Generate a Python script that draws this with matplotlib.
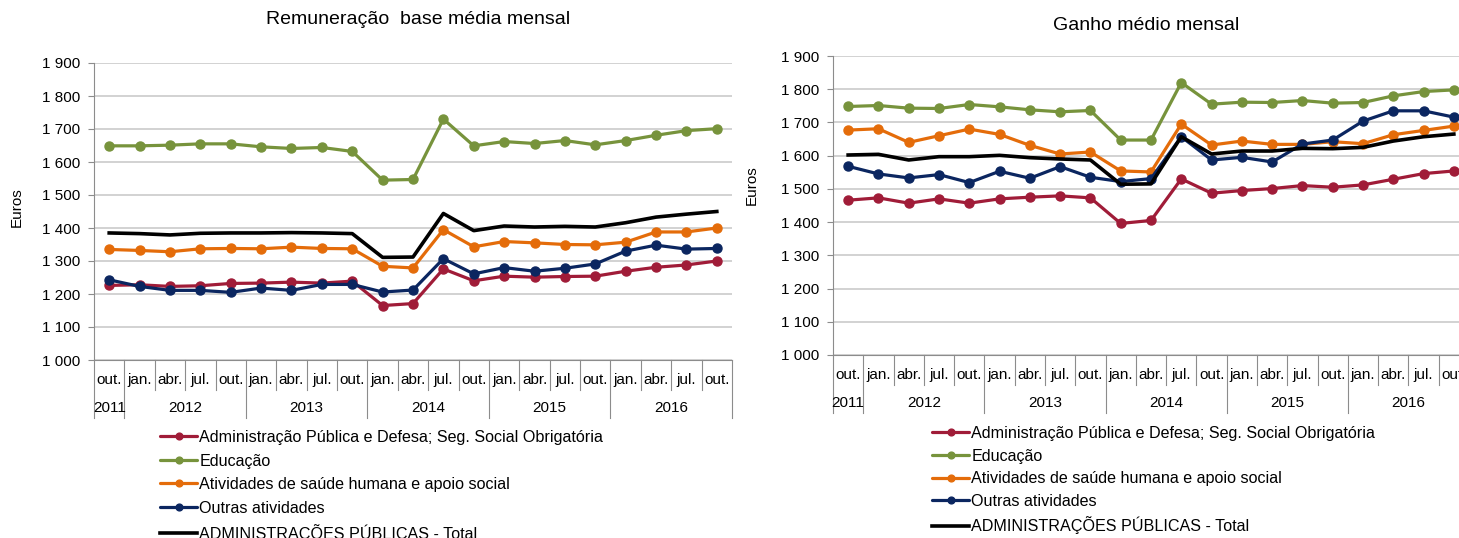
import numpy as np
import matplotlib
matplotlib.use("Agg")
import matplotlib.pyplot as plt
import matplotlib.transforms as mtransforms

plt.rcParams['font.family'] = ['Liberation Sans', 'DejaVu Sans']

# categories (quarterly, out. 2011 -> out. 2016)
months = ['out.'] + ['jan.', 'abr.', 'jul.', 'out.'] * 5
years = ['2011', '2012', '2013', '2014', '2015', '2016']
year_sizes = [1, 4, 4, 4, 4, 4]

labels = ['Administração Pública e Defesa; Seg. Social Obrigatória',
          'Educação',
          'Atividades de saúde humana e apoio social',
          'Outras atividades',
          'ADMINISTRAÇÕES PÚBLICAS - Total']

# Remuneração base média mensal
base_admin = [1226, 1228, 1223, 1225, 1232, 1233, 1236, 1233, 1239, 1165, 1171,
              1276, 1240, 1254, 1251, 1253, 1254, 1269, 1281, 1288, 1300]
base_educ = [1649, 1649, 1651, 1655, 1655, 1646, 1641, 1644, 1632, 1545, 1547,
             1730, 1649, 1662, 1656, 1665, 1652, 1665, 1681, 1695, 1701]
base_saude = [1335, 1332, 1328, 1337, 1338, 1337, 1342, 1338, 1337, 1284, 1279,
              1395, 1343, 1359, 1355, 1350, 1349, 1357, 1388, 1388, 1400]
base_outras = [1243, 1223, 1211, 1211, 1205, 1218, 1211, 1229, 1229, 1206, 1212,
               1307, 1261, 1280, 1269, 1278, 1291, 1330, 1348, 1336, 1338]
base_total = [1385, 1383, 1379, 1384, 1385, 1385, 1386, 1385, 1383, 1311, 1312,
              1444, 1392, 1406, 1403, 1405, 1403, 1416, 1433, 1442, 1450]

# Ganho médio mensal
ganho_admin = [1466, 1473, 1457, 1470, 1457, 1470, 1475, 1479, 1473, 1396, 1405,
               1530, 1487, 1495, 1501, 1510, 1505, 1512, 1529, 1546, 1554]
ganho_educ = [1748, 1751, 1743, 1742, 1754, 1747, 1738, 1732, 1736, 1647, 1647,
              1820, 1755, 1761, 1760, 1766, 1758, 1760, 1780, 1793, 1798]
ganho_saude = [1677, 1681, 1640, 1660, 1680, 1664, 1631, 1605, 1611, 1554, 1551,
               1695, 1632, 1644, 1634, 1634, 1642, 1636, 1663, 1676, 1689]
ganho_outras = [1568, 1545, 1533, 1543, 1519, 1553, 1532, 1567, 1535, 1522, 1531,
                1657, 1587, 1595, 1581, 1635, 1647, 1704, 1735, 1735, 1716]
ganho_total = [1602, 1604, 1587, 1597, 1597, 1601, 1594, 1590, 1587, 1514, 1515,
               1657, 1605, 1614, 1614, 1622, 1621, 1625, 1644, 1657, 1665]

colors = ['#A01C38', '#77933C', '#E46C0A', '#0B2660', '#000000']
GRAY = '#8C8C8C'
W, H = 1459, 538


def px_axes(l, r, t, b):
    return [l / W, 1 - b / H, (r - l) / W, (b - t) / H]


def draw_panel(rect, series, title, title_xy, euros_xy, leg_xy, leg_gap):
    ax = fig.add_axes(px_axes(*rect))
    hpx = rect[3] - rect[2]
    x = np.arange(len(months))
    for i, (vals, c) in enumerate(zip(series, colors)):
        if i < 4:
            ax.plot(x, vals, color=c, lw=2.3, marker='o', ms=6.5, label=labels[i],
                    solid_capstyle='round', zorder=3 + i)
        else:
            ax.plot(x, vals, color=c, lw=2.6, label=labels[i], zorder=8)

    ax.set_xlim(-0.5, len(months) - 0.5)
    ax.set_ylim(1000, 1900)
    ax.set_yticks(np.arange(1000, 1901, 100))
    ax.set_yticklabels(['{:,}'.format(v).replace(',', ' ') for v in range(1000, 1901, 100)])
    ax.tick_params(axis='y', length=4, width=0.8, color=GRAY, labelsize=11, pad=6)
    ax.set_xticks([])
    ax.grid(axis='y', color='#C6C6C6', lw=1.1)
    ax.set_axisbelow(True)
    for s in ['top', 'right']:
        ax.spines[s].set_visible(False)
    for s in ['left', 'bottom']:
        ax.spines[s].set_color(GRAY)
        ax.spines[s].set_linewidth(0.8)

    # two-level category axis
    trans = mtransforms.blended_transform_factory(ax.transData, ax.transAxes)
    for i, m in enumerate(months):
        ax.text(i, -20 / hpx, m, transform=trans, ha='center', va='center', fontsize=11)
    bounds = np.cumsum([0] + year_sizes) - 0.5
    for k in range(len(months) + 1):
        xb = k - 0.5
        depth = 58 if xb in bounds else 30
        ax.plot([xb, xb], [0, -depth / hpx], transform=trans, color=GRAY, lw=0.8,
                clip_on=False)
    for yr, a, b in zip(years, bounds[:-1], bounds[1:]):
        ax.text((a + b) / 2, -48 / hpx, yr, transform=trans, ha='center', va='center',
                fontsize=11)

    fig.text(title_xy[0] / W, 1 - title_xy[1] / H, title, ha='center', va='center',
             fontsize=14)
    fig.text(euros_xy[0] / W, 1 - euros_xy[1] / H, 'Euros', rotation=90, ha='center',
             va='center', fontsize=11)

    ax.legend(loc='upper left', bbox_to_anchor=(leg_xy[0] / W, 1 - leg_xy[1] / H),
              bbox_transform=fig.transFigure, frameon=False, fontsize=11.6,
              borderpad=0, borderaxespad=0, handlelength=2.3, handletextpad=0.15,
              labelspacing=leg_gap, markerscale=0.75)
    return ax


fig = plt.figure(figsize=(W / 100, H / 100), dpi=100)

draw_panel((94, 732, 63, 360),
           [base_admin, base_educ, base_saude, base_outras, base_total],
           'Remuneração  base média mensal', (418, 20), (17, 207), (160, 430), 0.53)
draw_panel((833, 1469, 56, 355),
           [ganho_admin, ganho_educ, ganho_saude, ganho_outras, ganho_total],
           'Ganho médio mensal', (1146, 25), (752, 185), (932, 426), 0.47)

fig.savefig('out.png', dpi=100)
